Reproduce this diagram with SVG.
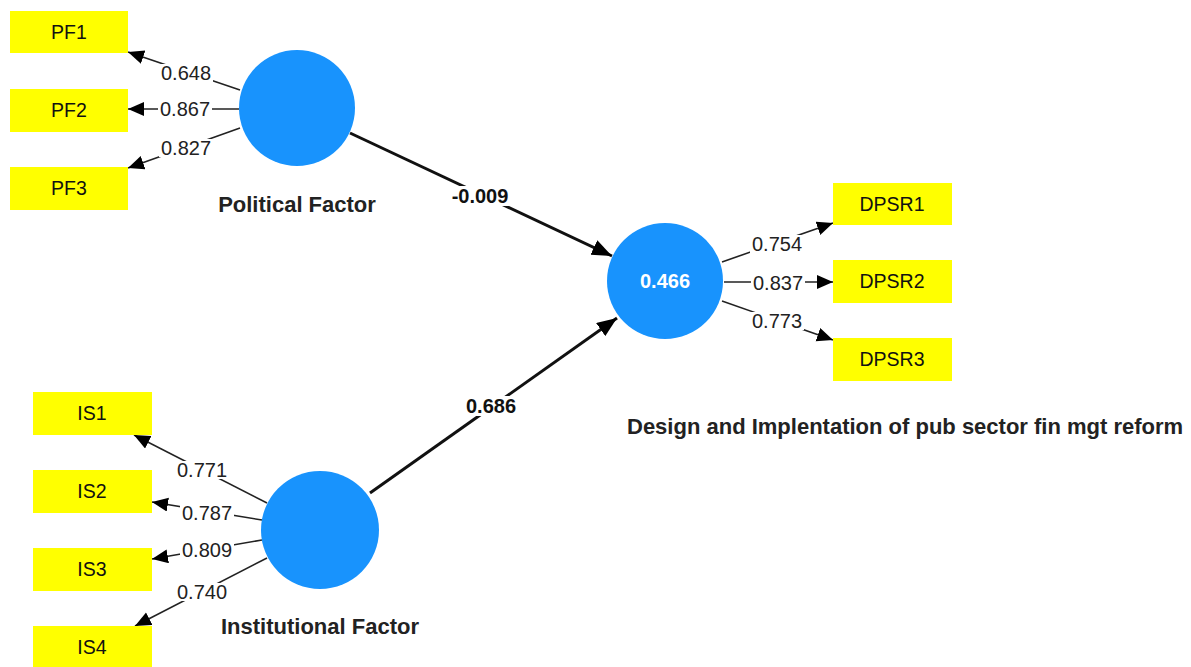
<svg xmlns="http://www.w3.org/2000/svg" width="1191" height="667" viewBox="0 0 1191 667">
  <style>
    .ind rect { fill: #FFFF00; }
    .ind text { font-family: "Liberation Sans", Arial, sans-serif; font-size: 19.5px; fill: #111; text-anchor: middle; }
    .lv circle { fill: #1893FD; }
    .name { font-family: "Liberation Sans", Arial, sans-serif; font-size: 22px; font-weight: bold; fill: #222; }
    .r2 { font-family: "Liberation Sans", Arial, sans-serif; font-size: 20px; font-weight: bold; fill: #fff; text-anchor: middle; }
    .load { stroke: #222; stroke-width: 1.6; fill: none; marker-end: url(#ah); }
    .path { stroke: #111; stroke-width: 3; fill: none; marker-end: url(#ahb); }
    .bg { fill: #fff; }
    .lbl { font-family: "Liberation Sans", Arial, sans-serif; font-size: 20px; fill: #222; text-anchor: middle; }
    .lblb { font-weight: bold; fill: #111; }
  </style>
  <defs>
    <marker id="ah" markerUnits="userSpaceOnUse" markerWidth="17" markerHeight="15" refX="16" refY="7" orient="auto">
      <path d="M0,0 L16,7 L0,14 z" fill="#000"/>
    </marker>
    <marker id="ahb" markerUnits="userSpaceOnUse" markerWidth="21" markerHeight="17" refX="20" refY="8" orient="auto">
      <path d="M0,0 L20,8 L0,16 z" fill="#000"/>
    </marker>
  </defs>
  <rect width="1191" height="667" fill="#fff"/>

  <!-- connectors with their coefficient labels -->
  <g id="connectors">
    <line class="load" x1="240" y1="90" x2="128" y2="52"/>
    <line class="load" x1="239" y1="109" x2="128" y2="109"/>
    <line class="load" x1="240" y1="128" x2="128" y2="168"/>
    <line class="load" x1="267" y1="503" x2="134" y2="435"/>
    <line class="load" x1="262" y1="520" x2="152" y2="502"/>
    <line class="load" x1="262" y1="540" x2="152" y2="559"/>
    <line class="load" x1="267" y1="558" x2="135" y2="626"/>
    <line class="load" x1="722" y1="262" x2="833" y2="223"/>
    <line class="load" x1="724" y1="282" x2="833" y2="282"/>
    <line class="load" x1="722" y1="301" x2="833" y2="340"/>
    <line class="path" x1="350" y1="133" x2="612" y2="256"/>
    <line class="path" x1="370" y1="493" x2="617" y2="318"/>

    <rect class="bg" x="159" y="64" width="54" height="18"/>
    <rect class="bg" x="158" y="100" width="54" height="18"/>
    <rect class="bg" x="159" y="139" width="54" height="18"/>
    <rect class="bg" x="175" y="461" width="54" height="18"/>
    <rect class="bg" x="180" y="504" width="54" height="18"/>
    <rect class="bg" x="180" y="541" width="54" height="18"/>
    <rect class="bg" x="175" y="583" width="54" height="18"/>
    <rect class="bg" x="750" y="235" width="54" height="18"/>
    <rect class="bg" x="751" y="274" width="54" height="18"/>
    <rect class="bg" x="750" y="312" width="54" height="18"/>
    <rect class="bg" x="450" y="186" width="60" height="20"/>
    <rect class="bg" x="463" y="396" width="56" height="20"/>

    <text class="lbl" x="186" y="80">0.648</text>
    <text class="lbl" x="185" y="116">0.867</text>
    <text class="lbl" x="186" y="155">0.827</text>
    <text class="lbl" x="202" y="477">0.771</text>
    <text class="lbl" x="207" y="520">0.787</text>
    <text class="lbl" x="207" y="557">0.809</text>
    <text class="lbl" x="202" y="599">0.740</text>
    <text class="lbl" x="777" y="251">0.754</text>
    <text class="lbl" x="778" y="290">0.837</text>
    <text class="lbl" x="777" y="328">0.773</text>
    <text class="lbl lblb" x="480" y="203">-0.009</text>
    <text class="lbl lblb" x="491" y="413">0.686</text>
  </g>

  <!-- indicators -->
  <g id="PF1" class="ind"><rect x="10" y="11" width="118" height="42"/><text x="69" y="39">PF1</text></g>
  <g id="PF2" class="ind"><rect x="10" y="89" width="118" height="43"/><text x="69" y="117">PF2</text></g>
  <g id="PF3" class="ind"><rect x="10" y="167" width="118" height="43"/><text x="69" y="195">PF3</text></g>
  <g id="IS1" class="ind"><rect x="33" y="392" width="119" height="43"/><text x="92" y="420">IS1</text></g>
  <g id="IS2" class="ind"><rect x="33" y="470" width="119" height="43"/><text x="92" y="498">IS2</text></g>
  <g id="IS3" class="ind"><rect x="33" y="548" width="119" height="43"/><text x="92" y="576">IS3</text></g>
  <g id="IS4" class="ind"><rect x="33" y="626" width="119" height="43"/><text x="92" y="654">IS4</text></g>
  <g id="DPSR1" class="ind"><rect x="833" y="183" width="119" height="42"/><text x="892" y="211">DPSR1</text></g>
  <g id="DPSR2" class="ind"><rect x="833" y="260" width="119" height="43"/><text x="892" y="288">DPSR2</text></g>
  <g id="DPSR3" class="ind"><rect x="833" y="338" width="119" height="43"/><text x="892" y="366">DPSR3</text></g>

  <!-- latent variables -->
  <g id="political-factor" class="lv">
    <circle cx="297" cy="108" r="58"/>
    <text class="name" x="297" y="212" text-anchor="middle">Political Factor</text>
  </g>
  <g id="institutional-factor" class="lv">
    <circle cx="320" cy="530" r="59"/>
    <text class="name" x="320" y="634" text-anchor="middle">Institutional Factor</text>
  </g>
  <g id="reform" class="lv">
    <circle cx="665" cy="281" r="58"/>
    <text class="r2" x="665" y="288">0.466</text>
    <text class="name" x="627" y="434">Design and Implentation of pub sector fin mgt reform</text>
  </g>
</svg>
